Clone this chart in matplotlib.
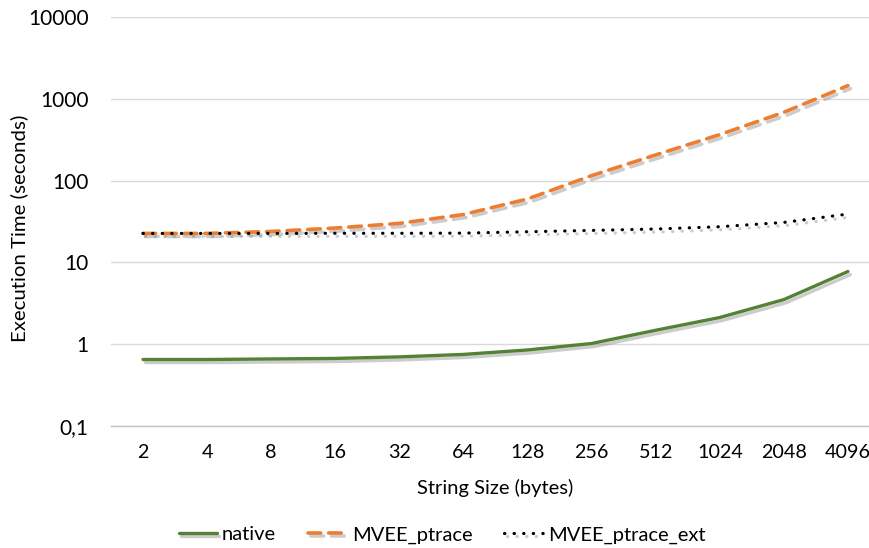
import matplotlib
matplotlib.use("Agg")
import matplotlib.pyplot as plt
import matplotlib.patheffects as pe

plt.rcParams['font.family'] = ['Lato', 'DejaVu Sans']

sizes = ["2", "4", "8", "16", "32", "64", "128", "256", "512", "1024", "2048", "4096"]
native = [0.65, 0.65, 0.66, 0.67, 0.70, 0.75, 0.85, 1.02, 1.48, 2.12, 3.51, 7.74]
mvee_ptrace = [22.6, 22.6, 23.9, 26.3, 30.0, 38.5, 59.6, 115, 206, 365, 684, 1450]
mvee_ptrace_ext = [22.6, 22.6, 22.6, 22.7, 22.7, 22.8, 23.7, 24.6, 25.6, 27.3, 30.8, 39.0]
ytick_vals = [0.1, 1, 10, 100, 1000, 10000]
ytick_labels = ["0,1", "1", "10", "100", "1000", "10000"]

fig = plt.figure(figsize=(8.7, 5.48), dpi=100)
ax = fig.add_axes([111/870, 1-426/548, 769/870, (426-17)/548])
x = list(range(len(sizes)))

shadow = [pe.SimpleLineShadow(offset=(1.8, -2.2), shadow_color='#808080', alpha=0.4), pe.Normal()]

ax.plot(x, native, color='#548235', lw=2.4, solid_capstyle='round', label='native', path_effects=shadow)
ax.plot(x, mvee_ptrace, color='#ED7D31', lw=2.6, linestyle=(0, (3.5, 2.2)), dash_capstyle='round', label='MVEE_ptrace', path_effects=shadow)
ax.plot(x, mvee_ptrace_ext, color='black', lw=2.3, linestyle=(0, (0.1, 2.9)), dash_capstyle='round', label='MVEE_ptrace_ext', path_effects=shadow)

ax.set_yscale('log')
ax.set_ylim(0.1, 10000)
ax.set_xlim(-0.5, len(sizes) - 0.5)
ax.set_yticks(ytick_vals)
ax.set_yticklabels(ytick_labels)
ax.minorticks_off()
ax.set_xticks(x)
ax.set_xticklabels(sizes)
ax.tick_params(axis='both', length=0, colors='#000000')
ax.tick_params(axis='x', pad=13, labelsize=14.2)
ax.tick_params(axis='y', pad=16, labelsize=15)
ax.yaxis.grid(True, color='#d9d9d9', lw=1)
ax.set_axisbelow(True)
for s in ['top', 'right', 'left']:
    ax.spines[s].set_visible(False)
ax.spines['bottom'].set_color('#bfbfbf')
ax.spines['bottom'].set_linewidth(1)

fig.text(495/870, 1-488/548, 'String Size (bytes)', fontsize=14.5, ha='center', va='center')
fig.text(19/870, 1-228/548, 'Execution Time (seconds)', fontsize=14.7, rotation=90, ha='center', va='center')

leg = fig.legend(loc='center', bbox_to_anchor=(442/870, 1-535/548), ncol=3, frameon=False,
                 fontsize=14.5, handlelength=1.9, columnspacing=1.6, handletextpad=0.25)

fig.savefig('out.png', dpi=100)
